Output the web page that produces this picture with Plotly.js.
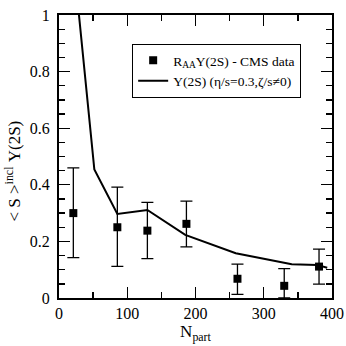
<!DOCTYPE html>
<html>
<head>
<meta charset="utf-8">
<script src="https://cdn.plot.ly/plotly-3.0.1.min.js"></script>
<style>html,body{margin:0;padding:0;background:#fff;}#chart{width:346px;height:346px;}</style>
</head>
<body>
<div id="chart"></div>
<script>
// CMS data points
var npartData = [21, 85.5, 129.5, 186.7, 261.5, 330, 381];
var raaData   = [0.300, 0.250, 0.238, 0.262, 0.068, 0.043, 0.111];
var raaUpper  = [0.460, 0.392, 0.338, 0.342, 0.120, 0.104, 0.173];
var raaLower  = [0.143, 0.112, 0.139, 0.181, 0.013, 0.000, 0.049];
// Model curve
var npartModel = [21, 51.8, 85.5, 129.5, 185, 259, 341, 378, 393];
var sModel     = [1.20, 0.454, 0.297, 0.311, 0.223, 0.158, 0.119, 0.117, 0.107];
// Ticks
var xTicks = [0, 100, 200, 300, 400];
var yTicks = [0, 0.2, 0.4, 0.6, 0.8, 1];

var errPlus = raaUpper.map(function(u, i){ return u - raaData[i]; });
var errMinus = raaLower.map(function(l, i){ return raaData[i] - l; });

var font = "Liberation Serif";

var traces = [
  {
    x: npartData, y: raaData, type: 'scatter', mode: 'markers',
    name: 'R<sub>AA</sub>Υ(2S) - CMS data',
    marker: {symbol: 'square', size: 8, color: '#000'},
    error_y: {type: 'data', symmetric: false, array: errPlus, arrayminus: errMinus,
              color: '#000', thickness: 1.3, width: 6},
    cliponaxis: true
  },
  {
    x: npartModel, y: sModel, type: 'scatter', mode: 'lines',
    name: 'Υ(2S) (η/s=0.3,ζ/s≠0)',
    line: {color: '#000', width: 2}
  }
];

var axisCommon = {
  showgrid: false, zeroline: false, showline: true, linecolor: '#000', linewidth: 2,
  mirror: 'allticks', ticks: 'inside', ticklen: 11, tickwidth: 1.3, tickcolor: '#000',
  tickfont: {family: font, size: 16, color: '#000'}
};

var layout = {
  width: 346, height: 346,
  font: {family: font, color: '#000'},
  margin: {l: 59, r: 14, t: 15, b: 48, pad: 0},
  paper_bgcolor: '#fff', plot_bgcolor: '#fff',
  showlegend: true,
  legend: {
    x: 0.268, y: 0.8975, xanchor: 'left', yanchor: 'top',
    bgcolor: '#fff', bordercolor: '#000', borderwidth: 1,
    font: {family: font, size: 13.5, color: '#000'},
    tracegroupgap: 0
  },
  xaxis: Object.assign({}, axisCommon, {
    range: [0, 400], tickvals: xTicks, ticktext: xTicks.map(String),
    minor: {dtick: 50, ticks: 'inside', ticklen: 6, tickwidth: 1.3, tickcolor: '#000'},
    title: {text: 'N<sub>part</sub>', font: {family: font, size: 17, color: '#000'}, standoff: 4}
  }),
  yaxis: Object.assign({}, axisCommon, {
    range: [0, 1], tickvals: yTicks, ticktext: yTicks.map(String),
    minor: {dtick: 0.05, ticks: 'inside', ticklen: 6, tickwidth: 1.3, tickcolor: '#000'},
    ticklabelstandoff: 4
  }),
  annotations: [{
    text: '< S ><sup>incl</sup> Υ(2S)',
    xref: 'paper', yref: 'paper', x: -0.17, y: 0.449,
    xanchor: 'center', yanchor: 'middle', textangle: -90, showarrow: false,
    font: {family: font, size: 17, color: '#000'}
  }]
};

Plotly.newPlot('chart', traces, layout, {displayModeBar: false, staticPlot: true});
</script>
</body>
</html>
